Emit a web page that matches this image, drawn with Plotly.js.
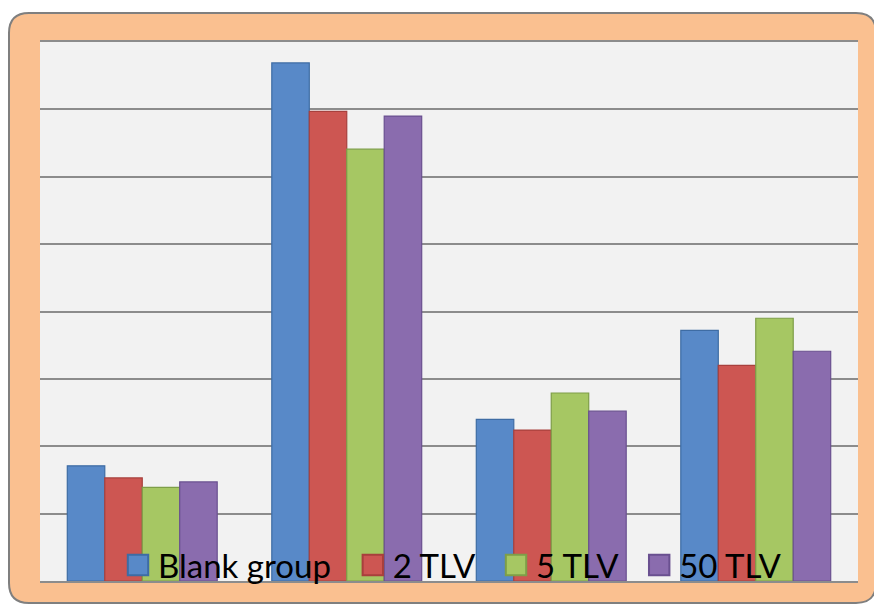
<!DOCTYPE html>
<html>
<head>
<meta charset="utf-8">
<script src="https://cdn.plot.ly/plotly-3.0.1.min.js"></script>
<style>html,body{margin:0;padding:0;background:#fff;}#chart{width:874px;height:606px;}</style>
</head>
<body>
<div id="chart"></div>
<script>
// ---- data ----
const categories = ["Group A", "Group B", "Group C", "Group D"];
const seriesNames = ["Blank group", "2 TLV", "5 TLV", "50 TLV"];
const blankGroup = [1.71, 7.69, 2.40, 3.72];
const tlv2 = [1.53, 6.97, 2.24, 3.20];
const tlv5 = [1.39, 6.41, 2.79, 3.90];
const tlv50 = [1.47, 6.90, 2.52, 3.41];
const seriesValues = [blankGroup, tlv2, tlv5, tlv50];

// ---- styles ----
const fillColors = ["#5889C8", "#CD5652", "#A6C763", "#8A6CAE"];
const lineColors = ["#3E6CA4", "#A8403D", "#7E9E48", "#6A5090"];

const traces = seriesNames.map((n, i) => ({
  type: "bar",
  name: n + "\u00a0\u00a0",
  x: categories,
  y: seriesValues[i],
  marker: { color: fillColors[i], line: { color: lineColors[i], width: 1.2 } },
  hoverinfo: "skip"
}));

// plot area in pixels: x 40..858, y 42..581
const W = 818, H = 539;
const px = v => (v - 40) / W;
const py = v => (581 - v) / H;
function roundRect(x0, y0, x1, y1, r) {
  const rx = r / W, ry = r / H;
  const X0 = px(x0), X1 = px(x1), Yt = py(y0), Yb = py(y1);
  return `M${X0 + rx},${Yt} L${X1 - rx},${Yt} Q${X1},${Yt} ${X1},${Yt - ry} ` +
         `L${X1},${Yb + ry} Q${X1},${Yb} ${X1 - rx},${Yb} ` +
         `L${X0 + rx},${Yb} Q${X0},${Yb} ${X0},${Yb + ry} ` +
         `L${X0},${Yt - ry} Q${X0},${Yt} ${X0 + rx},${Yt} Z`;
}

const layout = {
  width: 874, height: 606,
  margin: { l: 40, r: 16, t: 42, b: 25 },
  paper_bgcolor: "#ffffff",
  plot_bgcolor: "#F2F2F2",
  barmode: "group",
  bargap: 0.267,
  bargroupgap: 0,
  showlegend: true,
  legend: {
    orientation: "h",
    x: px(118), xanchor: "left",
    y: py(565), yanchor: "middle",
    bgcolor: "rgba(0,0,0,0)",
    font: { family: "Lato, 'Open Sans', sans-serif", size: 33, color: "#000" },
    itemclick: false
  },
  xaxis: {
    showticklabels: false, ticks: "", showgrid: false, zeroline: false,
    showline: true, mirror: true, linecolor: "#8C8C8C", linewidth: 2
  },
  yaxis: {
    range: [0, 8], dtick: 1, showticklabels: false, ticks: "",
    showgrid: true, gridcolor: "#8C8C8C", gridwidth: 2,
    zeroline: false, showline: false
  },
  shapes: [
    {
      type: "path", xref: "paper", yref: "paper", layer: "below",
      path: roundRect(9, 13, 876, 603, 20),
      fillcolor: "#FAC090", line: { color: "#7F7F7F", width: 2 }
    },
    {
      type: "rect", xref: "paper", yref: "paper", layer: "below",
      x0: 0, x1: 1, y0: 0, y1: 1,
      fillcolor: "#F2F2F2", line: { width: 0 }
    }
  ]
};

Plotly.newPlot("chart", traces, layout, { displayModeBar: false, staticPlot: true }).then(() => {
  document.querySelectorAll(".legend .legendpoints path").forEach(p => {
    const t = p.getAttribute("transform") || "";
    p.setAttribute("transform", t + " scale(1.7)");
  });
});
</script>
</body>
</html>
